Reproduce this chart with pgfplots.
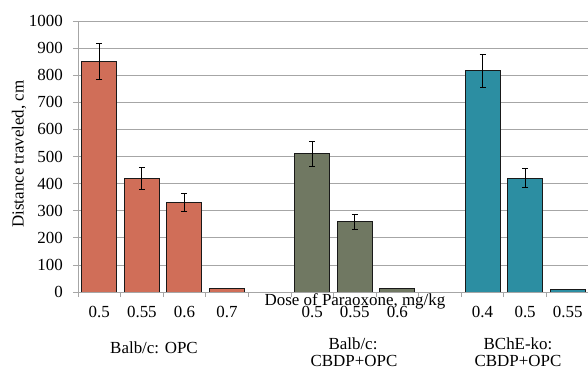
\documentclass[border=0pt]{standalone}
\usepackage{fontspec}
\setmainfont{Liberation Serif}
\usepackage{pgfplots}
\pgfplotsset{compat=1.18}
\definecolor{cred}{HTML}{D06E58}
\definecolor{cgreen}{HTML}{707862}
\definecolor{cblue}{HTML}{2C8EA2}
\definecolor{gridc}{HTML}{A6A6A6}
\newcommand{\lf}{\fontsize{17}{20}\selectfont}
\begin{document}
\begin{tikzpicture}[font=\lf]
\begin{axis}[
 at={(0,0)}, anchor=south west,
 scale only axis, width=511bp, height=271bp,
 xmin=-0.5, xmax=11.5, ymin=0, ymax=1000,
 ytick={0,100,...,1000},
 xtick={-0.5,0.5,...,11.5},
 xticklabels={},
 extra x ticks={0,1,2,3,5,6,7,9,10,11},
 extra x tick labels={0.5,0.55,0.6,0.7,0.5,0.55,0.6,0.4,0.5,0.55},
 extra x tick style={major tick length=0pt, xticklabel style={anchor=base, inner sep=0pt, yshift=-25bp}},
 tick style={gridc, line width=0.8pt},
 major tick length=5bp,
 tick pos=left, tick align=outside,
 axis lines*=left,
 axis line style={gridc, line width=0.8pt},
 ymajorgrids, grid style={gridc, line width=0.8pt},
 tick label style={font=\lf, text=black},
 yticklabel style={anchor=east, inner sep=0pt, xshift=-10bp},
 /pgf/number format/assume math mode=true,
 /pgf/number format/1000 sep={},
 ybar, bar width=0.82, bar shift=0pt,
 every axis plot/.append style={draw=black!90, line width=1bp},
 error bars/y dir=both, error bars/y explicit,
 error bars/error bar style={black, line width=0.9bp},
 error bars/error mark options={rotate=90, black, mark size=3bp, line width=0.9bp},
]
\addplot[fill=cred] coordinates {(0,850) +- (0,67) (1,420) +- (0,40) (2,330) +- (0,33)};
\addplot[fill=cred, forget plot] coordinates {(3,12)};
\addplot[fill=cgreen] coordinates {(5,510) +- (0,45) (6,259) +- (0,27)};
\addplot[fill=cgreen, forget plot] coordinates {(7,12)};
\addplot[fill=cblue] coordinates {(9,816) +- (0,60) (10,420) +- (0,35)};
\addplot[fill=cblue, forget plot] coordinates {(11,10)};
\end{axis}
\node[anchor=base] at (277bp,-13bp) {Dose of Paraoxone, mg/kg};
\node[rotate=90] at (-59bp,138bp) {Distance traveled, cm};
\node[anchor=base] at (76bp,-61bp) {Balb/c: OPC};
\node[anchor=base] at (275bp,-57bp) {Balb/c:};
\node[anchor=base] at (276bp,-74bp) {CBDP+OPC};
\node[anchor=base] at (440bp,-57bp) {BChE-ko:};
\node[anchor=base] at (440bp,-74bp) {CBDP+OPC};
\pgfresetboundingbox
\useasboundingbox (-78bp,-77bp) rectangle (510bp,292bp);
\end{tikzpicture}
\end{document}
